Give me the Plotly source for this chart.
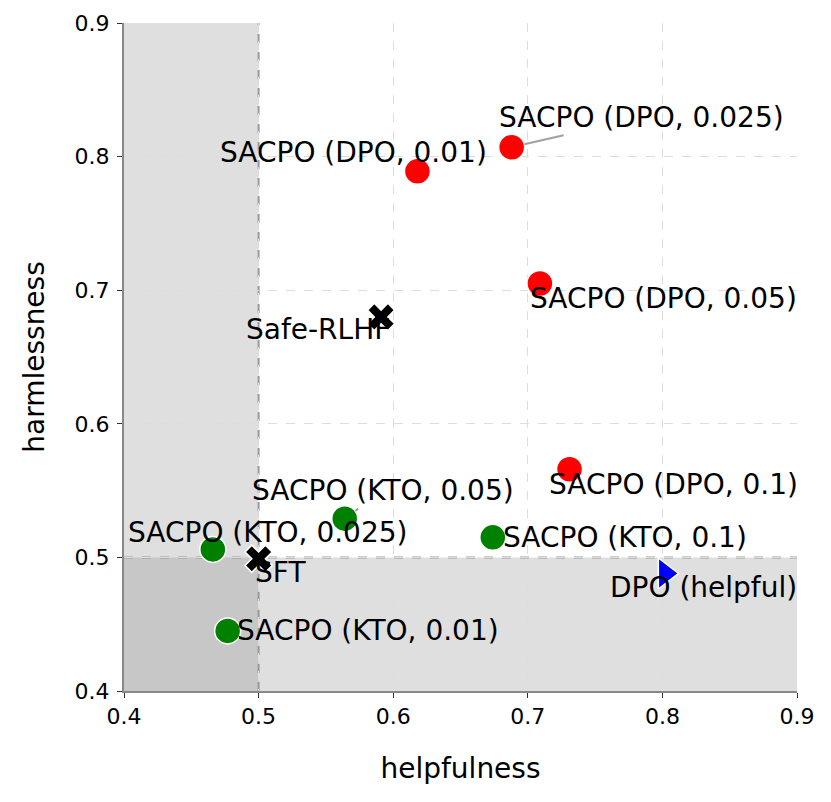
import plotly.graph_objects as go

# ---- data ----
dpo_labels = ["SACPO (DPO, 0.01)", "SACPO (DPO, 0.025)", "SACPO (DPO, 0.05)", "SACPO (DPO, 0.1)"]
dpo_help = [0.618, 0.688, 0.709, 0.731]
dpo_harm = [0.789, 0.807, 0.705, 0.566]

kto_labels = ["SACPO (KTO, 0.01)", "SACPO (KTO, 0.025)", "SACPO (KTO, 0.05)", "SACPO (KTO, 0.1)"]
kto_help = [0.477, 0.466, 0.564, 0.674]
kto_harm = [0.445, 0.506, 0.529, 0.515]

base_labels = ["Safe-RLHF", "SFT"]
base_help = [0.591, 0.500]
base_harm = [0.680, 0.499]

helpful_labels = ["DPO (helpful)"]
helpful_help = [0.802]
helpful_harm = [0.488]

tick_vals = [0.4, 0.5, 0.6, 0.7, 0.8, 0.9]
tick_text = ["0.4", "0.5", "0.6", "0.7", "0.8", "0.9"]

# ---- label placement (pixel offsets: dx, dy, arrow?) ----
label_style = {
    "SACPO (DPO, 0.01)": (-64, 19, False),
    "SACPO (DPO, 0.025)": (130, -30, True),
    "SACPO (DPO, 0.05)": (124, -15, False),
    "SACPO (DPO, 0.1)": (104, -15, False),
    "SACPO (KTO, 0.01)": (140, 0, False),
    "SACPO (KTO, 0.025)": (55, 17, False),
    "SACPO (KTO, 0.05)": (38, -28, True),
    "SACPO (KTO, 0.1)": (132, 0, False),
    "Safe-RLHF": (-63, -13, False),
    "SFT": (22, -14, False),
    "DPO (helpful)": (38, -14, False),
}

FONT = "DejaVu Sans"
fig = go.Figure()

fig.add_trace(go.Scatter(x=dpo_help, y=dpo_harm, mode="markers", text=dpo_labels,
                         marker=dict(color="red", size=26, line=dict(color="white", width=1.5)),
                         showlegend=False))
fig.add_trace(go.Scatter(x=kto_help, y=kto_harm, mode="markers", text=kto_labels,
                         marker=dict(color="green", size=26, line=dict(color="white", width=1.5)),
                         showlegend=False))
fig.add_trace(go.Scatter(x=base_help, y=base_harm, mode="markers", text=base_labels,
                         marker=dict(color="black", symbol="x", size=24, line=dict(color="white", width=1.5)),
                         showlegend=False))
fig.add_trace(go.Scatter(x=helpful_help, y=helpful_harm, mode="markers", text=helpful_labels,
                         marker=dict(color="blue", symbol="triangle-right", size=27, line=dict(color="white", width=1.5)),
                         showlegend=False))

# shaded regions
fig.add_shape(type="rect", xref="x", yref="paper", x0=0.4, x1=0.5, y0=0, y1=1,
              fillcolor="gray", opacity=0.25, line_width=0, layer="below")
fig.add_shape(type="rect", xref="paper", yref="y", x0=0, x1=1, y0=0.4, y1=0.5,
              fillcolor="gray", opacity=0.25, line_width=0, layer="below")
# reference lines
fig.add_shape(type="line", xref="x", yref="paper", x0=0.5, x1=0.5, y0=0, y1=1,
              line=dict(color="#999999", width=2, dash="dash"), layer="between")
fig.add_shape(type="line", xref="paper", yref="y", x0=0, x1=1, y0=0.5, y1=0.5,
              line=dict(color="#999999", width=2, dash="dash"), layer="between")

all_labels = dpo_labels + kto_labels + base_labels + helpful_labels
all_x = dpo_help + kto_help + base_help + helpful_help
all_y = dpo_harm + kto_harm + base_harm + helpful_harm
for lab, xv, yv in zip(all_labels, all_x, all_y):
    dx, dy, arrow = label_style[lab]
    if arrow:
        fig.add_annotation(x=xv, y=yv, text=lab, showarrow=True, ax=dx, ay=dy,
                           arrowhead=0, arrowwidth=2, arrowcolor="#a0a0a0", standoff=13,
                           font=dict(family=FONT, size=28, color="black"))
    else:
        fig.add_annotation(x=xv, y=yv, text=lab, showarrow=False, xshift=dx, yshift=dy,
                           font=dict(family=FONT, size=28, color="black"))

axis_common = dict(
    range=[0.4, 0.9], tickvals=tick_vals, ticktext=tick_text,
    showgrid=True, gridcolor="#dddddd", gridwidth=1, griddash="dash",
    showline=True, linecolor="#888888", linewidth=2, mirror=False,
    ticks="outside", ticklen=5, tickwidth=1, tickcolor="#333333",
    tickfont=dict(family=FONT, size=22, color="black"),
    zeroline=False, automargin=False,
)

fig.update_xaxes(**axis_common, title=dict(text="helpfulness", font=dict(family=FONT, size=28, color="black"), standoff=30))
fig.update_yaxes(**axis_common, ticklabelstandoff=3,
                 title=dict(text="harmlessness", font=dict(family=FONT, size=28, color="black"), standoff=22))

fig.update_layout(
    width=823, height=794,
    margin=dict(l=116, r=34, t=15, b=111),
    plot_bgcolor="white", paper_bgcolor="white",
    font=dict(family=FONT),
)

fig.write_html("out.html")
